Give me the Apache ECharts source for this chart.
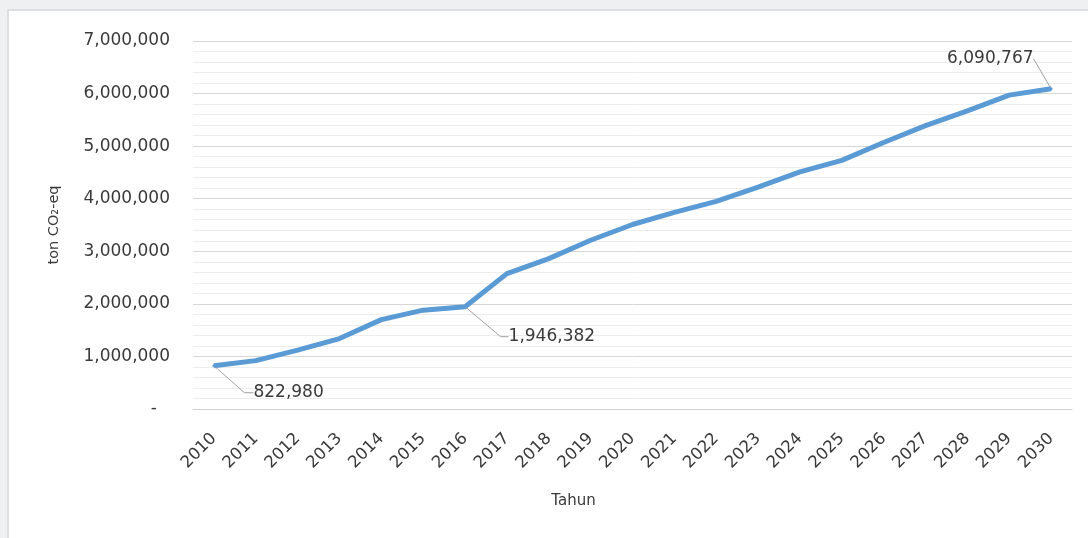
<!DOCTYPE html>
<html>
<head>
<meta charset="utf-8">
<script src="https://cdn.jsdelivr.net/npm/echarts@6/dist/echarts.min.js"></script>
<style>
  html, body { margin: 0; padding: 0; width: 1088px; height: 538px; background: #eff0f2; overflow: hidden; }
  #frame { position: absolute; left: 7px; top: 9px; width: 1090px; height: 540px; background: #ffffff; border-left: 2px solid #dedfe1; border-top: 2px solid #dedfe1; }
  #chart { position: absolute; left: 0; top: 0; width: 1088px; height: 538px; }
</style>
</head>
<body>
<div id="frame"></div>
<div id="chart"></div>
<script>
const years = ['2010','2011','2012','2013','2014','2015','2016','2017','2018','2019','2020',
               '2021','2022','2023','2024','2025','2026','2027','2028','2029','2030'];
const emissions = [822980, 920000, 1120000, 1340000, 1700000, 1880000, 1946382, 2575000, 2860000, 3210000, 3510000,
                   3740000, 3950000, 4220000, 4510000, 4730000, 5070000, 5390000, 5670000, 5970000, 6090767];
const yTicks = [0, 1000000, 2000000, 3000000, 4000000, 5000000, 6000000, 7000000];
// label offsets: dx, dy, side, leader tail length
const labelled = { 0: [38, 27, 'right', 9], 6: [42, 30, 'right', 8], 20: [-16, -30, 'left', 0] };

const fmt = v => v.toLocaleString('en-US');
const textColor = '#3a3a3a';
const font = 'DejaVu Sans';

const seriesData = emissions.map((v, i) => {
  const l = labelled[i];
  if (!l) return { value: v };
  return {
    value: v,
    label: { show: true, position: l[2], distance: 0, formatter: p => fmt(p.value),
             color: textColor, fontSize: 17, fontFamily: font },
    labelLine: { show: true, length2: l[3], lineStyle: { color: '#a0a0a0', width: 1 } }
  };
});

const chart = echarts.init(document.getElementById('chart'), null, { renderer: 'canvas' });
chart.setOption({
  animation: false,
  backgroundColor: 'transparent',
  grid: { left: 193, right: 16, top: 41, bottom: 129 },
  xAxis: {
    type: 'category',
    data: years,
    boundaryGap: true,
    axisTick: { show: false },
    axisLine: { lineStyle: { color: '#d0d0d0', width: 1 } },
    axisLabel: { rotate: 45, color: textColor, fontSize: 16.5, fontFamily: font, margin: 27, interval: 0 },
    name: 'Tahun',
    nameLocation: 'middle',
    nameGap: 85,
    nameTextStyle: { color: textColor, fontSize: 15, fontFamily: font, padding: [0, 118, 0, 0] }
  },
  yAxis: {
    type: 'value',
    min: yTicks[0],
    max: yTicks[yTicks.length - 1],
    interval: yTicks[1] - yTicks[0],
    axisLine: { show: false },
    axisTick: { show: false },
    axisLabel: {
      color: textColor, fontSize: 17, fontFamily: font, margin: 23,
      formatter: v => v === 0 ? '{d|-}' : fmt(v),
      rich: { d: { color: textColor, fontSize: 17, fontFamily: font, padding: [0, 13, 0, 0] } }
    },
    splitLine: { lineStyle: { color: '#d6d6d6', width: 1 } },
    minorTick: { show: false, splitNumber: 5 },
    minorSplitLine: { show: true, lineStyle: { color: '#ededed', width: 1 } },
    name: 'ton CO₂-eq',
    nameLocation: 'middle',
    nameGap: 131,
    nameRotate: 90,
    nameTextStyle: { color: textColor, fontSize: 14.5, fontFamily: font }
  },
  series: [{
    type: 'line',
    data: seriesData,
    symbol: 'circle',
    symbolSize: 3,
    showSymbol: true,
    itemStyle: { color: '#5b9bd5' },
    lineStyle: { color: '#5b9bd5', width: 5 },
    label: { show: false },
    labelLayout: p => {
      const l = labelled[p.dataIndex];
      return l ? { dx: l[0], dy: l[1] } : {};
    },
    emphasis: { disabled: true }
  }]
});
</script>
</body>
</html>
